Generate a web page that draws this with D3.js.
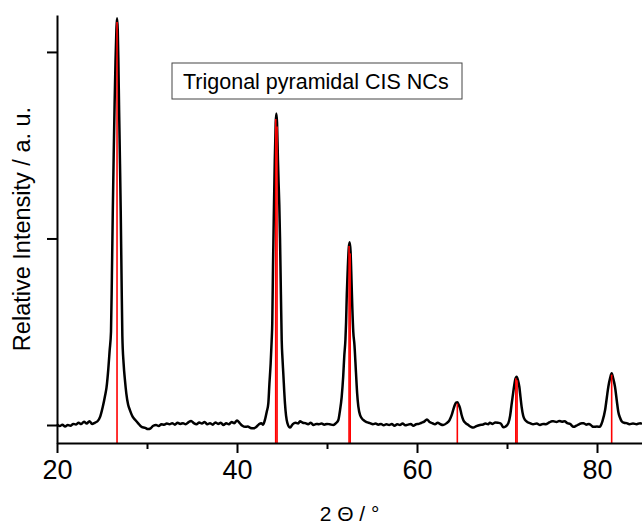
<!DOCTYPE html>
<html>
<head>
<meta charset="utf-8">
<script src="https://cdn.jsdelivr.net/npm/d3@7"></script>
<style>
	body { margin: 0; background: white; }
	svg { display: block; font-family: "Liberation Sans", Arial, sans-serif; }
</style>
</head>
<body>
<div id="wrapper"></div>
<script>
/*XRD pattern of the CIS nanocrystals*/
const twoTheta = [
	20.0, 20.3, 20.6, 20.9, 21.2, 21.5, 21.8, 22.1, 22.4, 22.7, 23.0, 23.3, 23.6, 23.9, 24.2, 24.5,
	24.8, 25.1, 25.35, 25.5, 25.7, 25.85, 26.0, 26.1, 26.2, 26.3, 26.4, 26.5, 26.6, 26.67, 26.75, 26.82,
	26.9, 27.0, 27.08, 27.17, 27.26, 27.4, 27.55, 27.7, 27.9, 28.1, 28.4, 28.7, 29.0, 29.4, 29.8, 30.1,
	30.4, 30.7, 31.0, 31.3, 31.6, 31.9, 32.2, 32.5, 32.8, 33.1, 33.4, 33.7, 34.0, 34.3, 34.6, 34.9,
	35.2, 35.5, 35.8, 36.1, 36.4, 36.7, 37.0, 37.3, 37.6, 37.9, 38.2, 38.5, 38.8, 39.1, 39.4, 39.7,
	40.0, 40.3, 40.6, 40.9, 41.2, 41.5, 41.8, 42.1, 42.4, 42.7, 42.9, 43.1, 43.3, 43.48, 43.6, 43.74,
	43.85, 43.92, 44.0, 44.1, 44.2, 44.3, 44.37, 44.45, 44.55, 44.62, 44.7, 44.78, 44.88, 44.97, 45.05, 45.14,
	45.33, 45.45, 45.6, 45.9, 46.2, 46.5, 46.8, 47.0, 47.3, 47.6, 47.9, 48.2, 48.5, 48.8, 49.1, 49.4,
	49.7, 50.0, 50.3, 50.7, 51.0, 51.26, 51.45, 51.63, 51.8, 51.92, 52.05, 52.12, 52.2, 52.3, 52.42, 52.52,
	52.62, 52.72, 52.82, 52.92, 53.05, 53.22, 53.35, 53.48, 53.7, 54.03, 54.4, 54.78, 55.1, 55.4, 55.7, 56.0,
	56.3, 56.6, 56.9, 57.2, 57.5, 57.8, 58.1, 58.4, 58.7, 59.0, 59.3, 59.6, 59.9, 60.2, 60.5, 60.8,
	61.1, 61.4, 61.7, 62.0, 62.3, 62.6, 62.9, 63.3, 63.6, 63.86, 64.05, 64.2, 64.35, 64.48, 64.62, 64.78,
	64.95, 65.14, 65.4, 65.7, 66.0, 66.26, 66.6, 67.0, 67.3, 67.6, 67.9, 68.1, 68.4, 68.7, 69.0, 69.3,
	69.6, 69.85, 70.15, 70.35, 70.5, 70.65, 70.78, 70.92, 71.07, 71.22, 71.37, 71.5, 71.63, 71.8, 72.0, 72.3,
	72.56, 72.9, 73.3, 73.67, 74.0, 74.3, 74.7, 75.0, 75.15, 75.5, 75.8, 76.1, 76.4, 76.7, 77.0, 77.4,
	77.7, 78.0, 78.3, 78.5, 78.8, 79.1, 79.4, 79.6, 80.0, 80.3, 80.6, 80.9, 81.1, 81.26, 81.45, 81.63,
	81.8, 82.0, 82.2, 82.37, 82.55, 82.74, 83.0, 83.3, 83.6, 84.0, 84.4, 84.8, 85.0
];
const intensity = [
	0.004, -0.006, 0.002, -0.008, 0.000, -0.004, 0.006, 0.003, 0.012, 0.005, 0.018, 0.008, 0.020, 0.006, 0.012, 0.020,
	0.045, 0.10, 0.16, 0.20, 0.30, 0.40, 0.50, 0.80, 1.15, 1.45, 1.72, 1.95, 2.12, 2.18, 2.12, 1.95,
	1.69, 1.40, 1.15, 0.80, 0.48, 0.33, 0.24, 0.17, 0.11, 0.08, 0.045, 0.027, 0.010, -0.010, -0.015, -0.022,
	-0.018, -0.004, 0.000, -0.006, 0.004, 0.002, 0.008, 0.004, 0.010, 0.002, 0.012, 0.006, 0.010, 0.004, 0.014, 0.022,
	0.010, 0.004, 0.014, 0.008, 0.016, 0.004, 0.010, 0.002, 0.014, 0.006, 0.012, 0.000, 0.010, 0.004, 0.016, 0.010,
	0.024, 0.010, -0.004, -0.010, -0.008, -0.016, -0.018, -0.012, 0.002, 0.010, 0.002, 0.027, 0.07, 0.116, 0.22, 0.33,
	0.45, 0.55, 0.85, 1.15, 1.42, 1.62, 1.67, 1.62, 1.42, 1.30, 1.18, 1.00, 0.70, 0.45, 0.36, 0.28,
	0.116, 0.05, 0.010, -0.014, 0.005, 0.012, 0.008, 0.020, 0.012, 0.010, 0.004, 0.012, 0.000, 0.006, 0.004, 0.008,
	0.002, 0.006, 0.004, 0.000, 0.010, 0.027, 0.08, 0.15, 0.26, 0.37, 0.46, 0.55, 0.70, 0.83, 0.95, 0.98,
	0.93, 0.78, 0.62, 0.50, 0.43, 0.28, 0.17, 0.10, 0.05, 0.027, 0.015, 0.010, 0.004, 0.008, 0.002, 0.006,
	-0.002, 0.004, 0.000, 0.006, -0.004, 0.004, 0.000, 0.008, -0.002, 0.002, 0.006, -0.004, 0.004, 0.006, 0.012, 0.018,
	0.030, 0.016, 0.010, 0.004, 0.012, 0.004, 0.000, 0.010, 0.025, 0.054, 0.085, 0.107, 0.120, 0.122, 0.110, 0.091,
	0.055, 0.027, 0.010, 0.000, -0.010, -0.014, -0.006, 0.000, 0.002, 0.008, 0.004, 0.012, 0.006, 0.014, 0.012, 0.008,
	-0.012, -0.008, 0.010, 0.05, 0.107, 0.16, 0.205, 0.245, 0.259, 0.24, 0.205, 0.15, 0.096, 0.05, 0.027, 0.015,
	0.010, 0.004, 0.008, 0.000, 0.006, 0.004, 0.014, 0.020, 0.020, 0.016, 0.022, 0.018, 0.020, 0.010, 0.006, -0.010,
	-0.004, 0.004, 0.010, 0.010, 0.002, 0.006, -0.004, -0.010, -0.008, -0.010, 0.02, 0.08, 0.15, 0.205, 0.25, 0.277,
	0.25, 0.205, 0.13, 0.07, 0.04, 0.020, 0.012, 0.010, 0.004, 0.008, 0.004, 0.010, 0.006
];

/*reference reflections (red sticks)*/
const refTheta = [26.67, 44.3, 44.45, 52.45, 52.58, 64.48, 70.98, 71.12, 81.63];
const refIntensity = [2.16, 1.64, 1.6, 0.96, 0.92, 0.115, 0.25, 0.24, 0.27];

const xTicks = [20, 40, 60, 80];
const xMinorTicks = [30, 50, 70];
const yTicks = [0, 1, 2];

const legendText = "Trigonal pyramidal CIS NCs";
const xLabel = "2 \u0398 / \u00b0";
const yLabel = "Relative Intensity / a. u.";

function drawData() {
/*step 1: data*/
	const dataset = twoTheta.map(function(t, i) {
		return { theta: t, value: intensity[i] };
	});
	const refs = refTheta.map(function(t, i) {
		return { theta: t, value: refIntensity[i] };
	});

/*step 2: dimensions*/
	let dimensions = {
		width: 642,
		height: 524,
		margin: {
			top: 15,
			right: 0,
			bottom: 81,
			left: 57,
		},
	}
	dimensions.boundedWidth = dimensions.width - dimensions.margin.left - dimensions.margin.right
	dimensions.boundedHeight = dimensions.height - dimensions.margin.top - dimensions.margin.bottom

/*step 3: canvas*/
	const wrapper = d3.select("#wrapper")
		.append("svg")
		.attr("width", dimensions.width)
		.attr("height", dimensions.height);

	const bounds = wrapper.append("g")
		.attr("transform", `translate(${dimensions.margin.left},${dimensions.margin.top})`);

/*step 4: scales*/
	const xScale = d3.scaleLinear()
		.domain([20, 85])
		.range([0, dimensions.boundedWidth])

	const yScale = d3.scaleLinear()
		.domain([-0.0965, 2.198])
		.range([dimensions.boundedHeight, 0])

/*step 5: draw data*/
	const lineGenerator = d3.line()
		.x(d => xScale(d.theta))
		.y(d => yScale(d.value))
		.curve(d3.curveMonotoneX)

	bounds.append("path")
		.datum(dataset)
		.attr("d", lineGenerator)
		.attr("fill", "none")
		.attr("stroke", "black")
		.attr("stroke-width", 2.5)
		.attr("stroke-linejoin", "round")

	bounds.selectAll(".stick")
		.data(refs)
		.enter().append("line")
		.attr("class", "stick")
		.attr("x1", d => xScale(d.theta))
		.attr("x2", d => xScale(d.theta))
		.attr("y1", dimensions.boundedHeight)
		.attr("y2", d => yScale(d.value))
		.attr("stroke", "#ff0000")
		.attr("stroke-width", 1.6)

/*step 6: axes and labels*/
	const xAxis = bounds.append("g")
		.attr("transform", `translate(0,${dimensions.boundedHeight})`)
		.call(d3.axisBottom(xScale)
			.tickValues(xTicks)
			.tickSize(10)
			.tickSizeOuter(0)
			.tickPadding(7)
			.tickFormat(d3.format("d")))
	xAxis.select(".domain").attr("stroke-width", 2)
	xAxis.selectAll(".tick line").attr("stroke-width", 2)
	xAxis.selectAll(".tick text")
		.attr("font-size", 27)
		.attr("font-family", "Liberation Sans, Arial, sans-serif")
		.attr("fill", "black")

	const xMinor = bounds.append("g")
		.attr("transform", `translate(0,${dimensions.boundedHeight})`)
		.call(d3.axisBottom(xScale)
			.tickValues(xMinorTicks)
			.tickSize(6)
			.tickSizeOuter(0)
			.tickFormat(""))
	xMinor.select(".domain").remove()
	xMinor.selectAll(".tick line").attr("stroke-width", 2)

	const yAxis = bounds.append("g")
		.call(d3.axisLeft(yScale)
			.tickValues(yTicks)
			.tickSize(10)
			.tickSizeOuter(0)
			.tickFormat(""))
	yAxis.select(".domain").attr("stroke-width", 2)
	yAxis.selectAll(".tick line").attr("stroke-width", 2)

	wrapper.append("text")
		.attr("x", dimensions.margin.left + dimensions.boundedWidth / 2)
		.attr("y", 521)
		.attr("text-anchor", "middle")
		.attr("font-size", 21)
		.attr("fill", "black")
		.text(xLabel)

	wrapper.append("text")
		.attr("transform", `translate(30,${dimensions.margin.top + dimensions.boundedHeight / 2}) rotate(-90)`)
		.attr("text-anchor", "middle")
		.attr("font-size", 23.5)
		.attr("fill", "black")
		.text(yLabel)

	// legend box
	const legend = wrapper.append("g")
		.attr("transform", "translate(172,63)")
	legend.append("rect")
		.attr("width", 290)
		.attr("height", 36)
		.attr("fill", "white")
		.attr("stroke", "#444")
		.attr("stroke-width", 1)
	legend.append("text")
		.attr("x", 11)
		.attr("y", 25.5)
		.attr("font-size", 21.5)
		.attr("fill", "black")
		.text(legendText)
}
drawData();
</script>
</body>
</html>
